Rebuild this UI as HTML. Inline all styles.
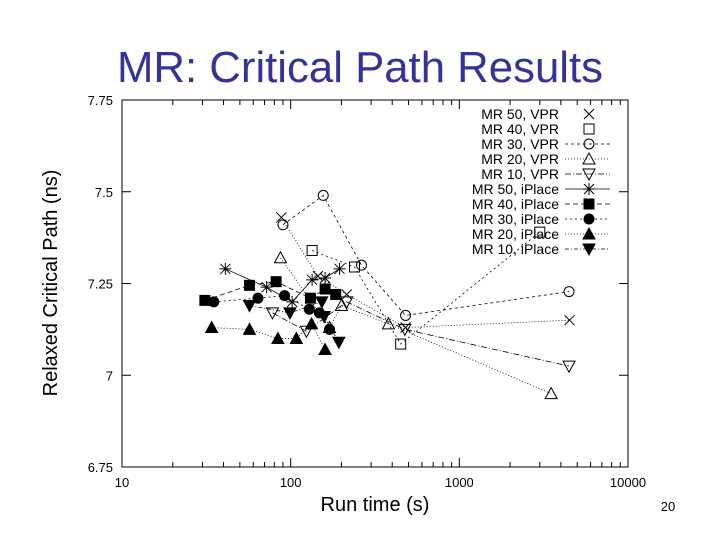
<!DOCTYPE html>
<html><head><meta charset="utf-8">
<style>
body{margin:0;background:#fff;}
svg{display:block;font-family:"Liberation Sans",sans-serif;}
</style></head>
<body>
<svg id="chart" width="720" height="540" viewBox="0 0 720 540">
<text x="360" y="82" text-anchor="middle" font-size="44" fill="#333399" textLength="486" lengthAdjust="spacingAndGlyphs">MR: Critical Path Results</text>
<rect x="122" y="100" width="506" height="367" fill="none" stroke="#000" stroke-width="1"/>
<g id="axes"></g>
<g id="series"></g>
<g id="legend"></g>
<text x="375" y="511" text-anchor="middle" font-size="20">Run time (s)</text>
<text transform="translate(57,283) rotate(-90)" text-anchor="middle" font-size="20">Relaxed Critical Path (ns)</text>
<text x="668" y="511" text-anchor="middle" font-size="13">20</text>
</svg>
<script>
const xTicks=[10,100,1000,10000];
const xTickLabels=["10","100","1000","10000"];
const yTicks=[6.75,7,7.25,7.5,7.75];
const yTickLabels=["6.75","7","7.25","7.5","7.75"];
const seriesNames=["MR 50, VPR","MR 40, VPR","MR 30, VPR","MR 20, VPR","MR 10, VPR","MR 50, iPlace","MR 40, iPlace","MR 30, iPlace","MR 20, iPlace","MR 10, iPlace"];
const s0x=[88,145,215,480,4500], s0y=[7.43,7.27,7.22,7.13,7.15];
const s1x=[134,239,449,3000], s1y=[7.34,7.295,7.085,7.39];
const s2x=[90,156,263,480,4470], s2y=[7.41,7.49,7.30,7.163,7.228];
const s3x=[87,170,200,380,3500], s3y=[7.32,7.13,7.19,7.14,6.95];
const s4x=[78,124,215,475,4470], s4y=[7.17,7.12,7.2,7.125,7.025];
const s5x=[41,72,102,134,160,195], s5y=[7.29,7.24,7.20,7.26,7.265,7.29];
const s6x=[31,57,82,131,160,185], s6y=[7.204,7.245,7.255,7.21,7.235,7.22];
const s7x=[35,64,92,129,148,170], s7y=[7.2,7.21,7.217,7.18,7.17,7.125];
const s8x=[34,57,84,108,133,160], s8y=[7.13,7.125,7.1,7.1,7.14,7.07];
const s9x=[57,99,153,158,193], s9y=[7.19,7.17,7.2,7.16,7.09];

const X0=122,X1=628,Y0=467,Y1=100;
function sx(v){return X0+(Math.log10(v)-1)/3*(X1-X0);}
function sy(v){return Y0-(v-6.75)/1.0*(Y0-Y1);}
const NS="http://www.w3.org/2000/svg";
function mk(t,a,p){const e=document.createElementNS(NS,t);for(const k in a)e.setAttribute(k,a[k]);p.appendChild(e);return e;}
const axes=document.getElementById('axes');
xTicks.forEach((v,i)=>{
  const x=sx(v);
  const l=mk('line',{x1:x,y1:Y0,x2:x,y2:Y0-9,stroke:'#000'},axes);
  
  
  const l2=mk('line',{x1:x,y1:Y1,x2:x,y2:Y1+9,stroke:'#000'},axes);
  
  
  const t=mk('text',{x:x,y:487,'text-anchor':'middle','font-size':13},axes);
  t.textContent=xTickLabels[i];
  
  
  if(i<3){for(let m=2;m<10;m++){const xm=sx(v*m);
    const a=mk('line',{x1:xm,y1:Y0,x2:xm,y2:Y0-5,stroke:'#000'},axes);
    
    
    const b=mk('line',{x1:xm,y1:Y1,x2:xm,y2:Y1+5,stroke:'#000'},axes);
    
    }}
});
yTicks.forEach((v,i)=>{
  const y=sy(v);
  const l=mk('line',{x1:X0,y1:y,x2:X0+9,y2:y,stroke:'#000'},axes);
  
  
  const l2=mk('line',{x1:X1,y1:y,x2:X1-9,y2:y,stroke:'#000'},axes);
  
  
  const t=mk('text',{x:113,y:y+5,'text-anchor':'end','font-size':13},axes);
  t.textContent=yTickLabels[i];
  
  
});
const allX=[s0x,s1x,s2x,s3x,s4x,s5x,s6x,s7x,s8x,s9x];
const allY=[s0y,s1y,s2y,s3y,s4y,s5y,s6y,s7y,s8y,s9y];
const markers=['x','sq','ci','tu','td','star','fsq','fci','ftu','ftd'];
const dashes=['1,2','2,3','3,3','1,2','6,2,1,2','','5,3','2,3','1,2','4,2,1,2'];
function marker(type,x,y,g){
  let e;
  const o={stroke:'#000','stroke-width':1,fill:'none'};
  if(type==='x'){e=mk('path',Object.assign({d:`M${x-5},${y-5}L${x+5},${y+5}M${x-5},${y+5}L${x+5},${y-5}`},o),g);}
  else if(type==='star'){e=mk('path',Object.assign({d:`M${x-6},${y}L${x+6},${y}M${x},${y-6}L${x},${y+6}M${x-5},${y-5}L${x+5},${y+5}M${x-5},${y+5}L${x+5},${y-5}`},o),g);}
  else if(type==='sq'||type==='fsq'){e=mk('rect',Object.assign({x:x-5,y:y-5,width:10,height:10},o,type==='fsq'?{fill:'#000'}:{}),g);}
  else if(type==='ci'||type==='fci'){e=mk('circle',Object.assign({cx:x,cy:y,r:5},o,type==='fci'?{fill:'#000'}:{}),g);}
  else if(type==='tu'||type==='ftu'){e=mk('path',Object.assign({d:`M${x},${y-6}L${x+6},${y+5}L${x-6},${y+5}Z`},o,type==='ftu'?{fill:'#000'}:{}),g);}
  else {e=mk('path',Object.assign({d:`M${x},${y+6}L${x+6},${y-5}L${x-6},${y-5}Z`},o,type==='ftd'?{fill:'#000'}:{}),g);}
  
  
}
const sg=document.getElementById('series');
allX.forEach((xs,i)=>{
  const g=mk('g',{},sg);
  
  
  const pts=xs.map((v,j)=>sx(v)+','+sy(allY[i][j])).join(' ');
  const pl=mk('polyline',{points:pts,fill:'none',stroke:'#000','stroke-width':0.8,'stroke-dasharray':dashes[i]},g);
  
  
  xs.forEach((v,j)=>marker(markers[i],sx(v),sy(allY[i][j]),g));
});
const lg=document.getElementById('legend');
seriesNames.forEach((n,i)=>{
  const y=114+i*15;
  const t=mk('text',{x:559,y:y+5,'text-anchor':'end','font-size':14},lg);
  t.textContent=n;
  
  
  if(i>=2){const l=mk('line',{x1:565,y1:y,x2:610,y2:y,stroke:'#000','stroke-width':0.8,'stroke-dasharray':dashes[i]},lg);
    
    }
  marker(markers[i],589,y,lg);
});
</script>
</body></html>
